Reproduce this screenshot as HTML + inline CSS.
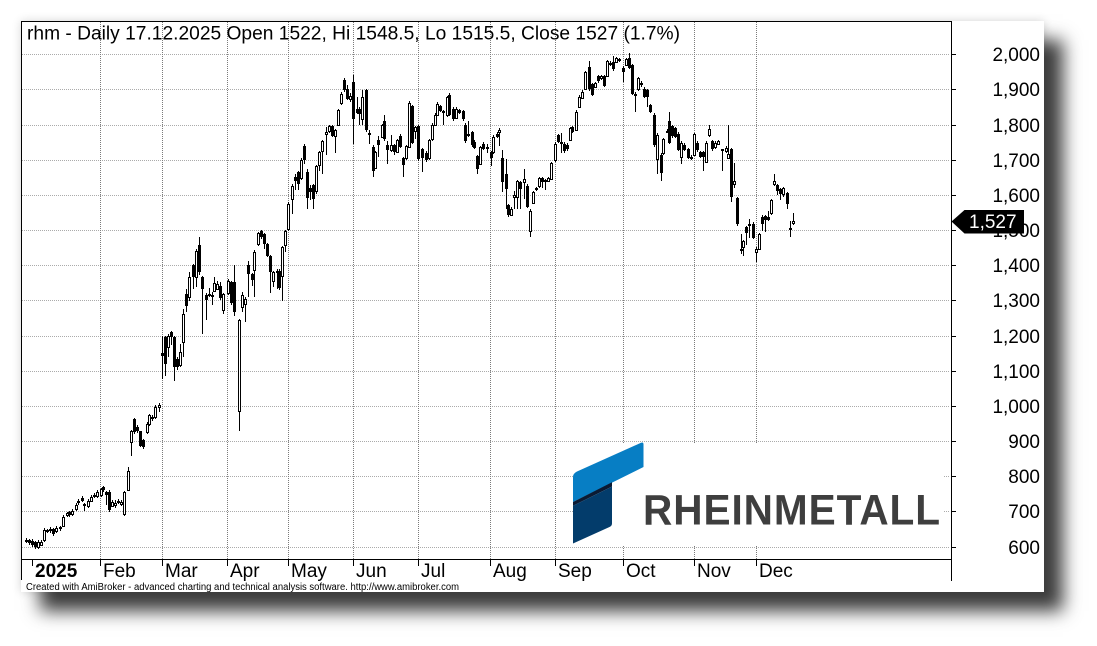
<!DOCTYPE html>
<html><head><meta charset="utf-8">
<style>
html,body{margin:0;padding:0;background:#fff;width:1097px;height:646px;overflow:hidden;}
#panel{position:absolute;left:21px;top:21px;width:1023px;height:571px;background:#fff;box-shadow:19px 19px 17px #3c3c3c, 0 0 9px rgba(0,0,0,0.16);}
svg{position:absolute;left:0;top:0;}
text{font-family:"Liberation Sans",Arial,sans-serif;}
</style></head><body>
<div id="panel"></div>
<svg id="s" width="1097" height="646" viewBox="0 0 1097 646">
<g fill="none" stroke="#ababab" stroke-dasharray="1 1" shape-rendering="crispEdges">
<path d="M22 54.5H950M22 89.5H950M22 125.5H950M22 160.5H950M22 195.5H950M22 230.5H950M22 265.5H950M22 300.5H950M22 336.5H950M22 371.5H950M22 406.5H950M22 441.5H950M22 476.5H950M22 511.5H950M22 547.5H950"/>
</g>
<g fill="none" stroke="#7a7a7a" stroke-dasharray="1 1" shape-rendering="crispEdges">
<path d="M100.5 22V559M162.5 22V559M227.5 22V559M288.5 22V559M353.5 22V559M418.5 22V559M490.5 22V559M555.5 22V559M623.5 22V559M694.5 22V559M756.5 22V559"/>
</g>
<!-- logo -->
<rect x="573" y="443" width="370" height="103" fill="#fff"/>
<path d="M573 477 Q573 473.5 577 471.5 L641 442.8 Q643.5 441.8 643.5 444.5 L643.5 467 L573 502 Z" fill="#077ec4"/>
<path d="M573 502 L612 482.3 L612 486.5 L573 505.8 Z" fill="#0b1a33"/>
<path d="M573 505.8 L612 486.5 L612 523.5 Q612 526 609.5 527 L573 543.5 Z" fill="#033c6b"/>
<text x="643" y="524.5" font-size="43" font-weight="bold" fill="#3e3e3e" letter-spacing="1" textLength="298" lengthAdjust="spacingAndGlyphs">RHEINMETALL</text>
<!-- candles -->
<g id="cand" shape-rendering="crispEdges"></g>
<!-- frame -->
<path d="M21.5 21V580M21 21.5H951.5M951.5 21V581M21 559.5H951" stroke="#000" fill="none" shape-rendering="crispEdges"/>
<path d="M952 54.5H956M952 89.5H956M952 125.5H956M952 160.5H956M952 195.5H956M952 230.5H956M952 265.5H956M952 300.5H956M952 336.5H956M952 371.5H956M952 406.5H956M952 441.5H956M952 476.5H956M952 511.5H956M952 547.5H956" stroke="#000" shape-rendering="crispEdges"/>
<path d="M32.5 560V566M100.5 560V566M162.5 560V566M227.5 560V566M288.5 560V566M353.5 560V566M418.5 560V566M490.5 560V566M555.5 560V566M623.5 560V566M694.5 560V566M756.5 560V566" stroke="#000" shape-rendering="crispEdges"/>
<g font-size="19" fill="#000" text-anchor="end">
<text x="1040" y="61">2,000</text>
<text x="1040" y="96">1,900</text>
<text x="1040" y="132">1,800</text>
<text x="1040" y="167">1,700</text>
<text x="1040" y="202">1,600</text>
<text x="1040" y="237">1,500</text>
<text x="1040" y="272">1,400</text>
<text x="1040" y="307">1,300</text>
<text x="1040" y="343">1,200</text>
<text x="1040" y="378">1,100</text>
<text x="1040" y="413">1,000</text>
<text x="1040" y="448">900</text>
<text x="1040" y="483">800</text>
<text x="1040" y="518">700</text>
<text x="1040" y="554">600</text>
</g>
<path d="M951.5 221.5 L964.5 210 L1024 210 L1024 233.5 L964.5 233.5 Z" fill="#000"/>
<text x="969" y="228" font-size="19" fill="#fff">1,527</text>
<text x="27" y="39.5" font-size="19" fill="#000" textLength="653" lengthAdjust="spacingAndGlyphs">rhm - Daily 17.12.2025 Open 1522, Hi 1548.5, Lo 1515.5, Close 1527 (1.7%)</text>
<g font-size="19" fill="#000">
<text x="35" y="577" font-weight="bold">2025</text>
<text x="103" y="577">Feb</text>
<text x="165" y="577">Mar</text>
<text x="230" y="577">Apr</text>
<text x="291" y="577">May</text>
<text x="356" y="577">Jun</text>
<text x="421" y="577">Jul</text>
<text x="493" y="577">Aug</text>
<text x="558" y="577">Sep</text>
<text x="626" y="577">Oct</text>
<text x="697" y="577">Nov</text>
<text x="759" y="577">Dec</text>
</g>
<text x="26" y="590" font-size="10" fill="#000" textLength="433" lengthAdjust="spacingAndGlyphs">Created with AmiBroker - advanced charting and technical analysis software. http://www.amibroker.com</text>
</svg>
<script>
const D=[
[26,621,618],[29,620,613],[32,618,606],[35,615,601,618,596],[38,601,615],[41,608,617],[44,620,650],[47,648,650,652,640],[50,653,646],[53,653,639,655,634],[56,646,656],[60,657,653],[63,662,688],[67,691,697],[69,700,692],[72,695,705],[76,710,721],[78,733,726],[82,740,733,745,728],[84,723,718,726,705],[88,718,733],[91,733,743],[94,749,745],[97,745,757],[101,748,765],[103,771,762,775,758],[106,757,748,760,720],[109,757,707],[112,719,729],[115,722,726,735,713],[118,728,732],[121,724,729],[124,695,757,760,690],[128,764,817,830,760],[131,899,932,935,861],[134,965,927,968,922],[137,942,930],[140,930,888,932,885],[143,904,885],[147,927,951],[149,951,975],[152,970,965],[155,970,1000],[159,1000,1005,1010,985],
[162,1153,1145,1200,1079],[165,1197,1122,1200,1088],[168,1169,1202,1206,1140],[171,1211,1197,1216,1175],[174,1197,1112,1200,1074],[177,1136,1112,1140,1103],[180,1117,1155,1178,1112],[183,1183,1264,1278,1140],[186,1320,1287,1335,1268],[189,1311,1368,1382,1300],[193,1401,1368,1405,1335],[196,1368,1443,1447,1340],[199,1460,1382,1481,1375],[202,1368,1335,1372,1207],[206,1318,1302,1322,1245],[209,1320,1317,1337,1311],[212,1318,1315,1325,1290],[214,1328,1350,1368,1325],[217,1335,1349,1358,1330],[220,1344,1309,1353,1302],[223,1275,1320,1323,1264],[228,1322,1356,1363,1318],[231,1353,1294,1358,1290],[234,1353,1268,1401,1258],[239,989,1245,1250,932],[242,1282,1316,1325,1268],[245,1292,1306,1310,1240],[248,1401,1377,1415,1311],[252,1377,1360,1380,1344],[254,1389,1439,1444,1311],[258,1461,1493,1497,1455],[261,1500,1481,1502,1476],[264,1491,1462,1494,1448],[267,1462,1429,1465,1424],[270,1429,1382,1432,1322],[273,1358,1382,1386,1340],[277,1382,1386,1390,1335],[279,1386,1337,1390,1330],[282,1372,1453,1457,1300],[285,1458,1498,1502,1440],[288,1505,1576,1580,1500],[292,1590,1628,1632,1548],[295,1652,1642,1660,1614],[298,1666,1633,1670,1616],[301,1650,1701,1705,1645],[304,1739,1699,1745,1690],
[307,1667,1593,1676,1561],[310,1620,1610,1629,1587],[313,1629,1591,1633,1560],[316,1613,1683,1687,1605],[319,1686,1723,1727,1669],[322,1725,1754,1758,1660],[326,1773,1780,1794,1716],[329,1782,1796,1800,1778],[332,1796,1769,1800,1765],[335,1769,1785,1789,1719],[338,1801,1841,1845,1797],[341,1863,1889,1893,1858],[344,1929,1898,1933,1894],[347,1901,1875,1912,1871],[350,1873,1882,1890,1865],[353,1922,1818,1941,1747],[357,1844,1835,1880,1831],[359,1846,1832,1850,1799],[362,1818,1879,1898,1799],[366,1898,1785,1902,1781],[369,1777,1773,1785,1747],[373,1738,1669,1742,1653],[375,1678,1722,1726,1675],[378,1757,1744,1768,1710],[382,1766,1799,1803,1762],[384,1810,1759,1827,1755],[387,1742,1728,1755,1690],[391,1728,1742,1770,1724],[394,1742,1722,1746,1716],[397,1723,1757,1761,1719],[400,1769,1738,1773,1734],[403,1705,1686,1709,1653],[406,1705,1740,1744,1701],[409,1738,1863,1867,1734],[412,1854,1750,1858,1746],[415,1782,1794,1798,1760],[418,1796,1702,1800,1698],[422,1731,1705,1735,1667],[426,1721,1700,1725,1696],[429,1705,1757,1761,1701],[432,1759,1801,1805,1755],[435,1801,1829,1833,1797],[437,1829,1860,1864,1825],[440,1854,1840,1858,1836],[443,1839,1837,1843,1799],[447,1827,1879,1883,1823],[449,1886,1829,1890,1825],[453,1846,1816,1850,1812],[456,1820,1846,1850,1816],[459,1841,1835,1845,1831],[463,1839,1816,1843,1812],[465,1801,1754,1805,1750],[468,1775,1771,1811,1767],[472,1780,1742,1784,1738],[474,1752,1735,1756,1731],[477,1712,1676,1716,1661],[480,1690,1737,1741,1686],[483,1747,1733,1751,1729],[487,1738,1736,1745,1720],[491,1722,1706,1726,1684],[493,1722,1766,1770,1718],[497,1775,1766,1779,1762],[499,1780,1785,1790,1740],
[502,1706,1638,1728,1609],[506,1662,1619,1702,1562],[508,1572,1543,1576,1539],[511,1545,1562,1566,1541],[514,1595,1600,1611,1562],[517,1595,1640,1644,1562],[520,1638,1619,1642,1562],[524,1638,1647,1676,1590],[527,1628,1567,1632,1563],[530,1500,1557,1561,1481],[533,1579,1609,1613,1575],[536,1621,1617,1625,1613],[539,1626,1649,1653,1622],[542,1649,1638,1653,1620],[545,1643,1638,1647,1616],[548,1641,1648,1652,1637],[551,1647,1692,1696,1643],[555,1699,1747,1751,1695],[558,1770,1752,1774,1748],[561,1752,1747,1777,1719],[564,1747,1725,1751,1721],[567,1744,1733,1748,1727],[570,1758,1790,1794,1754],[572,1794,1780,1798,1776],[576,1787,1837,1841,1783],[579,1851,1880,1884,1847],[582,1877,1894,1898,1873],[585,1903,1949,1953,1899],[589,1965,1901,1981,1897],[592,1916,1886,1920,1882],[595,1908,1918,1922,1904],[598,1939,1924,1943,1920],[601,1932,1939,1943,1928],[604,1939,1911,1943,1907],[607,1939,1981,1985,1935],[610,1972,1977,1981,1968],[613,1979,1958,1997,1954],[616,1979,1989,1993,1975],[619,1984,1987,1991,1980],[623,1962,1949,1966,1922],[626,1970,1986,1990,1966],[629,1990,1962,2005,1958],[632,1970,1889,1974,1885],[635,1889,1882,1893,1837],[638,1901,1932,1936,1897],[641,1920,1912,1924,1908],[644,1903,1880,1907,1876],[647,1899,1880,1903,1852],[650,1856,1837,1860,1833],[654,1829,1742,1833,1738],[657,1704,1772,1776,1662],
[661,1715,1663,1719,1640],[663,1720,1760,1764,1716],[667,1780,1784,1788,1776],[669,1812,1750,1836,1746],[672,1796,1768,1800,1764],[675,1791,1766,1795,1762],[678,1775,1730,1779,1726],[681,1710,1749,1753,1689],[684,1744,1730,1748,1726],[688,1731,1706,1735,1702],[691,1710,1703,1714,1699],[694,1715,1774,1778,1711],[697,1749,1728,1753,1724],[700,1722,1709,1726,1705],[703,1722,1709,1726,1670],[706,1696,1749,1753,1692],[709,1770,1789,1800,1766],[712,1753,1731,1757,1727],[715,1737,1750,1754,1733],[718,1746,1753,1757,1742],[722,1731,1729,1733,1668],[726,1725,1735,1739,1721],[728,1706,1718,1800,1702],[731,1731,1596,1735,1582],[734,1633,1640,1693,1621],[737,1592,1518,1596,1514],[741,1449,1444,1489,1434],[743,1452,1470,1474,1427],[746,1509,1493,1513,1458],[749,1515,1518,1533,1480],[753,1520,1480,1524,1476],[756,1439,1448,1452,1410],[759,1449,1489,1493,1445],[762,1539,1520,1543,1500],[765,1541,1530,1545,1495],[768,1539,1530,1555,1526],[771,1549,1587,1591,1545],[774,1632,1642,1661,1628],[777,1629,1611,1633,1600],[780,1618,1605,1622,1587],[783,1605,1620,1624,1596],[787,1606,1575,1610,1560],[790,1508,1506,1526,1481],[793,1522,1527,1548.5,1515.5]
];
const Y=p=>547.5-(p-600)*0.35214;
let wk='',hol='',blk='';
for(const c of D){
  let [x,o,cl,hi,lo]=c;
  if(hi===undefined){hi=Math.max(o,cl)+5;lo=Math.min(o,cl)-5;}
  const X=Math.floor(x);
  const yh=Math.round(Y(hi)), yl=Math.round(Y(lo));
  wk+=`M${X+0.5} ${yh}V${Math.max(yl,yh+1)}`;
  const t=Math.round(Y(Math.max(o,cl))), bt=Math.round(Y(Math.min(o,cl)));
  if(cl>=o){
    const hh=Math.max(bt-t,1);
    hol+=`<rect x="${X-0.5}" y="${t+0.5}" width="2" height="${hh}"/>`;
  } else {
    const hh=Math.max(bt-t,2);
    blk+=`<rect x="${X-1}" y="${t}" width="3" height="${hh}"/>`;
  }
}
document.getElementById('cand').innerHTML=
 `<path d="${wk}" stroke="#000" stroke-width="1" fill="none"/>`+
 `<g fill="#fff" stroke="#000" stroke-width="1">${hol}</g>`+
 `<g fill="#000">${blk}</g>`;
</script>
</body></html>
